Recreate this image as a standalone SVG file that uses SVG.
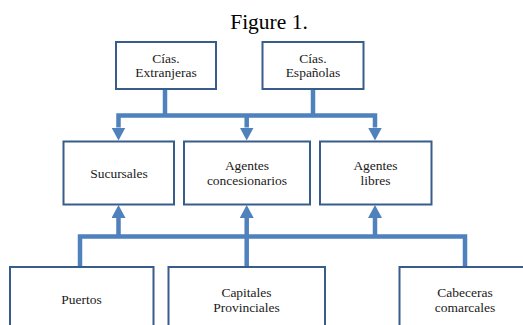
<svg xmlns="http://www.w3.org/2000/svg" width="523" height="325" viewBox="0 0 523 325">
<style>
.box{fill:#ffffff;stroke:#385D8A;stroke-width:2}
.t{font-size:13.5px;fill:#1a1a1a;text-anchor:middle}
.title{font-size:21.5px;fill:#000;text-anchor:middle}
.c{fill:none;stroke:#4F81BD;stroke-width:4.5;stroke-linejoin:miter}
</style>
<defs>
<marker id="ah" viewBox="0 0 13 14" refX="0" refY="7" markerWidth="13" markerHeight="14" markerUnits="userSpaceOnUse" orient="auto-start-reverse">
<path d="M0,0 L13,7 L0,14 z" fill="#4F81BD"/>
</marker>
</defs>
<rect width="523" height="325" fill="#ffffff"/>
<g font-family="Liberation Serif, DejaVu Serif, serif">
<text class="title" x="269" y="29">Figure 1.</text>
<g id="connectors">
<path class="c" d="M165,89 V115.5"/>
<path class="c" d="M313,89 V115.5"/>
<path class="c" d="M118.5,127.5 V115.5 H375 V127.5" marker-start="url(#ah)" marker-end="url(#ah)"/>
<path class="c" d="M246.7,115.5 V127.5" marker-end="url(#ah)"/>
<path class="c" d="M80,267 V236.5 H465 V267"/>
<path class="c" d="M246.7,236.5 V267"/>
<path class="c" d="M118.5,236.5 V218" marker-end="url(#ah)"/>
<path class="c" d="M246.7,236.5 V218" marker-end="url(#ah)"/>
<path class="c" d="M375,236.5 V218" marker-end="url(#ah)"/>
</g>
<g id="cias-extranjeras">
<rect class="box" x="116" y="42" width="100" height="47"/>
<text class="t" x="166" y="62.5">Cías.</text>
<text class="t" x="166" y="77">Extranjeras</text>
</g>
<g id="cias-espanolas">
<rect class="box" x="262.5" y="42" width="101" height="47"/>
<text class="t" x="313" y="62.5">Cías.</text>
<text class="t" x="313" y="77">Españolas</text>
</g>
<g id="sucursales">
<rect class="box" x="63.5" y="141.5" width="110.5" height="63"/>
<text class="t" x="119" y="177.5">Sucursales</text>
</g>
<g id="agentes-concesionarios">
<rect class="box" x="184" y="141.5" width="126" height="63"/>
<text class="t" x="247" y="170">Agentes</text>
<text class="t" x="247" y="184.5">concesionarios</text>
</g>
<g id="agentes-libres">
<rect class="box" x="320" y="141.5" width="111.5" height="63"/>
<text class="t" x="375.5" y="170">Agentes</text>
<text class="t" x="375.5" y="184.5">libres</text>
</g>
<g id="puertos">
<rect class="box" x="10" y="267" width="143.5" height="70"/>
<text class="t" x="81.5" y="304">Puertos</text>
</g>
<g id="capitales-provinciales">
<rect class="box" x="168.5" y="267" width="156.5" height="70"/>
<text class="t" x="246.5" y="297">Capitales</text>
<text class="t" x="246.5" y="311.5">Provinciales</text>
</g>
<g id="cabeceras-comarcales">
<rect class="box" x="399.5" y="267" width="131" height="70"/>
<text class="t" x="465" y="297">Cabeceras</text>
<text class="t" x="465" y="311.5">comarcales</text>
</g>
</g>
</svg>
